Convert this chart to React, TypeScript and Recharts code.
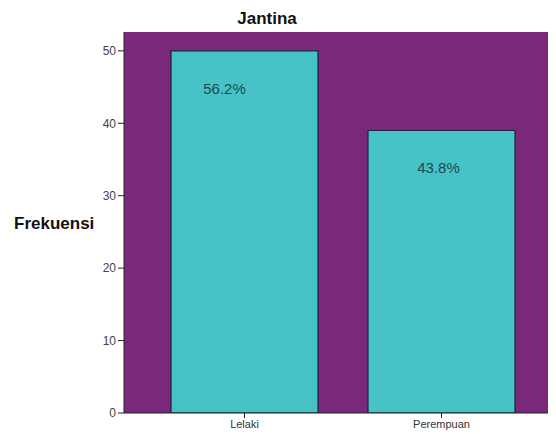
import React from 'react';
import { BarChart, Bar, XAxis, YAxis, CartesianGrid, LabelList } from 'recharts';

const categories = ['Lelaki', 'Perempuan'];
const frequencies = [50, 39];
const percentLabels = ['56.2%', '43.8%'];
const yTicks = [0, 10, 20, 30, 40, 50];

const data = categories.map((c, i) => ({ name: c, value: frequencies[i], pct: percentLabels[i] }));

// SPSS places the percentage text slightly off-centre
const labelNudge = [-20, -3];

const PctLabel = (props: any) => {
  const { x, y, width, index, value } = props;
  return (
    <text
      x={x + width / 2 + (labelNudge[index] || 0)}
      y={y + 39}
      textAnchor="middle"
      dominantBaseline="middle"
      fontSize={15}
      fill="#1d4a50"
      fontFamily="Liberation Sans, Arial, sans-serif"
    >
      {value}
    </text>
  );
};

export default function App() {
  return (
    <div style={{ position: 'relative', width: 556, height: 434, background: '#fff', fontFamily: 'Liberation Sans, Arial, sans-serif' }}>
      <style>{'body{margin:0}'}</style>
      <div style={{ position: 'absolute', left: 0, width: 534, top: 9, textAlign: 'center', fontWeight: 'bold', fontSize: 17, color: '#111' }}>
        Jantina
      </div>
      <div style={{ position: 'absolute', left: 14, top: 214, fontWeight: 'bold', fontSize: 17, color: '#111' }}>
        Frekuensi
      </div>
      <BarChart
        width={556}
        height={434}
        data={data}
        margin={{ top: 32, right: 8, left: 84, bottom: 0 }}
      >
        <CartesianGrid horizontal={false} vertical={false} fill="#7a297a" />
        <XAxis
          dataKey="name"
          padding={{ left: 22, right: 8 }}
          height={21}
          tick={{ fontSize: 11, fill: '#333' }}
          tickSize={5}
          tickLine={{ stroke: '#222' }}
          axisLine={{ stroke: '#222' }}
          interval={0}
        />
        <YAxis
          width={40}
          domain={[0, 52.6]}
          ticks={yTicks}
          tick={{ fontSize: 12, fill: '#444' }}
          tickSize={6}
          tickLine={{ stroke: '#222' }}
          axisLine={{ stroke: '#222' }}
          allowDataOverflow
        />
        <Bar dataKey="value" fill="#47c3c7" stroke="#1c2040" strokeWidth={1.2} barSize={147} isAnimationActive={false}>
          <LabelList dataKey="pct" content={<PctLabel />} />
        </Bar>
      </BarChart>
    </div>
  );
}
